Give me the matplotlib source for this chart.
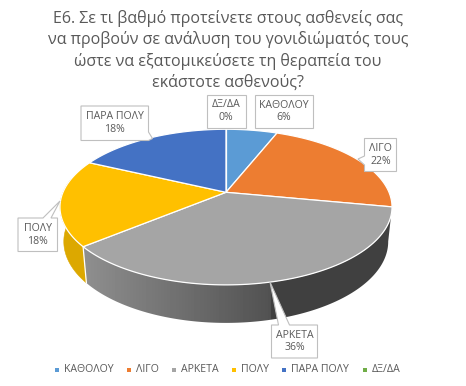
import numpy as np
import matplotlib
matplotlib.use("Agg")
import matplotlib.pyplot as plt
from matplotlib.patches import Polygon

titulo = "Ε6. Σε τι βαθμό προτείνετε στους ασθενείς σας\nνα προβούν σε ανάλυση του γονιδιώματός τους\nώστε να εξατομικεύσετε τη θεραπεία του\nεκάστοτε ασθενούς?"
categorias = ["ΚΑΘΟΛΟΥ", "ΛΙΓΟ", "ΑΡΚΕΤΑ", "ΠΟΛΥ", "ΠΑΡΑ ΠΟΛΥ", "ΔΞ/ΔΑ"]
valores = [6, 22, 36, 18, 18, 0]
colores = ["#5b9bd5", "#ed7d31", "#a5a5a5", "#ffc000", "#4472c4", "#70ad47"]

plt.rcParams['font.family'] = ['Open Sans', 'DejaVu Sans']
GRIS = "#595959"
BORDE = "#bfbfbf"

fig = plt.figure(figsize=(4.66, 3.86), dpi=100)
ax = fig.add_axes([0, 0, 1, 1])
ax.axis("off")

# Proyeccion del circulo con perspectiva
cx, cy, rx, ry, k = 226, 192.3, 163, 75, 0.19

def arriba(p):
    t = 2 * np.pi * np.asarray(p) / 100
    w = 1 + k * np.cos(t)
    return cx + rx * np.sin(t) / w, cy - ry * np.cos(t) / w

def abajo(p):
    x, y = arriba(p)
    return cx + 0.977 * (x - cx), y + 34.5 + 0.045 * (y - 207)

bordes = np.cumsum([0] + valores)

# Lateral con degradado
lat = np.linspace(bordes[2], bordes[3], 150)
xa, ya = arriba(lat)
xb, yb = abajo(lat)
xs = np.linspace(60, 400, 340)
g = np.where(xs > 271, 0.25, 0.32 + (271 - xs) / (271 - 83) * 0.24)
img = ax.imshow(g[None, :], cmap="gray", vmin=0, vmax=1, extent=(60, 400, 340, 190), aspect="auto", zorder=1)
img.set_clip_path(Polygon(np.c_[np.r_[xa, xb[::-1]], np.r_[ya, yb[::-1]]], transform=ax.transData))

lat = np.linspace(bordes[3], 78, 30)
xa, ya = arriba(lat)
xb, yb = abajo(lat)
ax.fill(np.r_[xa, xb[::-1]], np.r_[ya, yb[::-1]], color="#dca800", lw=0.4, zorder=1)
xa, ya = arriba(bordes[3])
xb, yb = abajo(bordes[3])
ax.plot([xa, xb], [ya, yb], color="white", lw=0.9, zorder=2)

# Cara superior
for i, cat in enumerate(categorias):
    a = np.linspace(bordes[i], bordes[i + 1], 100)
    x, y = arriba(a)
    ax.fill(np.r_[cx, x], np.r_[cy, y], facecolor=colores[i], edgecolor="white", lw=0.9, zorder=3)

# Etiquetas: contorno del recuadro con su flecha
cajas = [
    [(254.5, 95), (312.5, 95), (312.5, 128), (254.5, 128)],
    [(364.5, 138.5), (396.5, 138.5), (396.5, 171.5), (364.5, 171.5), (364.5, 165), (358, 159), (364.5, 156)],
    [(271.5, 325), (278.5, 325), (270, 282), (289.5, 325), (317.5, 325), (317.5, 358), (271.5, 358)],
    [(18, 218), (43, 218), (60, 201), (51, 218), (57.5, 218), (57.5, 251.5), (18, 251.5)],
    [(81, 106), (148.5, 106), (148.5, 132), (152.5, 138.5), (148.5, 140.5), (81, 140.5)],
    [(206.5, 95), (245.5, 95), (245.5, 127.5), (206.5, 127.5)],
]
centros = [(283.5, 111.5), (380.5, 155), (294.5, 341.5), (37.75, 234.75), (114.75, 123.25), (226, 111.25)]
for cat, v, caja, c in zip(categorias, valores, cajas, centros):
    xs, ys = zip(*caja)
    ax.fill(xs, ys, facecolor="white", edgecolor=BORDE, lw=0.8, zorder=5)
    ax.text(c[0], c[1], f"{cat}\n{v}%", ha="center", va="center", fontsize=7.6, color=GRIS,
            linespacing=1.25, zorder=6)

ax.text(228, 50, titulo, ha="center", va="center", fontsize=11.5, color=GRIS, linespacing=1.36)

# Leyenda
x_ley = [57.3, 129.3, 174.3, 234.3, 284.3, 365]
for x, cat, col in zip(x_ley, categorias, colores):
    ax.scatter([x], [370], s=9, marker="s", color=col, lw=0)
    ax.text(x + 6.5, 369.5, cat, ha="left", va="center", fontsize=7.6, color=GRIS)

ax.set_xlim(0, 466)
ax.set_ylim(386, 0)
fig.savefig("out.png", dpi=100, facecolor="white")
